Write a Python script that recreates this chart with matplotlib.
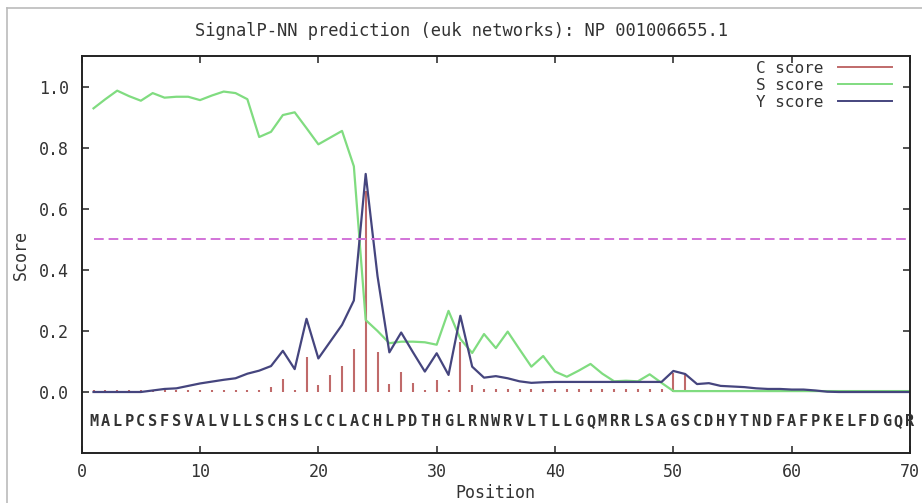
import numpy as np
import matplotlib
matplotlib.use('Agg')
import matplotlib.pyplot as plt
from matplotlib.lines import Line2D

title = "SignalP-NN prediction (euk networks): NP 001006655.1"
sequence = "MALPCSFSVALVLLSCHSLCCLACHLPDTHGLRNWRVLTLLGQMRRLSAGSCDHYTNDFAFPKELFDGQR"
positions = np.arange(1, len(sequence) + 1)

c_score = [0.008] * 15 + [
    0.015, 0.044, 0.006, 0.115, 0.022, 0.055, 0.084, 0.142, 0.66, 0.131,
    0.025, 0.066, 0.03, 0.008, 0.04, 0.008, 0.165, 0.022, 0.011,
] + [0.01] * 15 + [0.063, 0.06] + [0.008] * 19

s_score = [
    0.93, 0.96, 0.988, 0.97, 0.955, 0.98, 0.965, 0.968, 0.968, 0.957,
    0.972, 0.985, 0.98, 0.96, 0.836, 0.853, 0.908, 0.917, 0.865, 0.812,
    0.834, 0.856, 0.74, 0.236, 0.2, 0.16, 0.165, 0.165, 0.163, 0.155,
    0.266, 0.174, 0.128, 0.19, 0.144, 0.198, 0.14, 0.083, 0.118, 0.067,
    0.05, 0.07, 0.092, 0.06, 0.035, 0.037, 0.035, 0.058, 0.03,
] + [0.003] * 21

y_score = [
    0.0, 0.0, 0.0, 0.0, 0.0, 0.005, 0.01, 0.012, 0.02, 0.028,
    0.034, 0.04, 0.045, 0.06, 0.07, 0.085, 0.135, 0.075, 0.24, 0.11,
    0.165, 0.22, 0.3, 0.715, 0.38, 0.13, 0.195, 0.13, 0.067, 0.127,
    0.056, 0.25, 0.083, 0.047, 0.052, 0.045, 0.035, 0.03, 0.032, 0.033,
    0.033, 0.033, 0.033, 0.033, 0.033, 0.033, 0.033, 0.033, 0.033, 0.069,
    0.059, 0.026, 0.029, 0.02, 0.018, 0.016, 0.012, 0.01, 0.01, 0.008,
    0.008, 0.005, 0.001, 0.0, 0.0, 0.0, 0.0, 0.0, 0.0, 0.0,
]

threshold = 0.5

C_COL = '#c06a6a'
S_COL = '#80dc80'
Y_COL = '#45457e'
T_COL = '#d273d8'
TXT = '#333333'

plt.rcParams['font.family'] = ['DejaVu Sans Mono']

fig = plt.figure(figsize=(9.22, 5.03), dpi=100)
ax = fig.add_axes([0.0886, 0.0994, 0.8984, 0.7883])

ax.vlines(positions, 0, c_score, color=C_COL, lw=1.5)
ax.plot(positions, s_score, color=S_COL, lw=1.6)
ax.plot(positions, y_score, color=Y_COL, lw=1.6)
ax.hlines(threshold, positions[0], positions[-1], color=T_COL, lw=1.4,
          linestyles=(0, (5, 2.5)))

# legend-only handles
handles = [Line2D([], [], color=C_COL, lw=1.4),
           Line2D([], [], color=S_COL, lw=1.4),
           Line2D([], [], color=Y_COL, lw=1.4)]
ax.legend(handles, ['C score', 'S score', 'Y score'], loc='upper right',
          markerfirst=False, frameon=False, fontsize=11.5, handlelength=3.4,
          handletextpad=0.9, labelspacing=0.12, borderaxespad=0.0,
          labelcolor=TXT, bbox_to_anchor=(0.986, 1.005))

for p, aa in zip(positions, sequence):
    ax.text(p, -0.098, aa, ha='center', va='center', fontsize=11,
            color=TXT, fontweight='bold')

ax.set_xlim(0, 70)
ax.set_ylim(-0.2, 1.1)
ax.set_xticks(range(0, 71, 10))
ax.set_yticks(np.arange(0, 1.01, 0.2))
ax.set_yticklabels([f"{v:.1f}" for v in np.arange(0, 1.01, 0.2)])
ax.tick_params(direction='in', length=5, width=1.2, top=True, right=True,
               labelsize=12, colors=TXT, pad=9)
ax.tick_params(axis='x', pad=7)
for sp in ax.spines.values():
    sp.set_linewidth(1.4)
    sp.set_color('#222222')

ax.set_xlabel('Position', fontsize=12, color=TXT, labelpad=2)
ax.set_ylabel('Score', fontsize=12, color=TXT, labelpad=7)
fig.suptitle(title, y=0.957, fontsize=12.3, color=TXT)

# screenshot frame
fig.add_artist(Line2D([0.008, 0.008], [0, 0.984], transform=fig.transFigure,
                      color='#bbbbbb', lw=1.2))
fig.add_artist(Line2D([0.008, 1.0], [0.984, 0.984], transform=fig.transFigure,
                      color='#bbbbbb', lw=1.2))

fig.savefig('out.png', dpi=100)
